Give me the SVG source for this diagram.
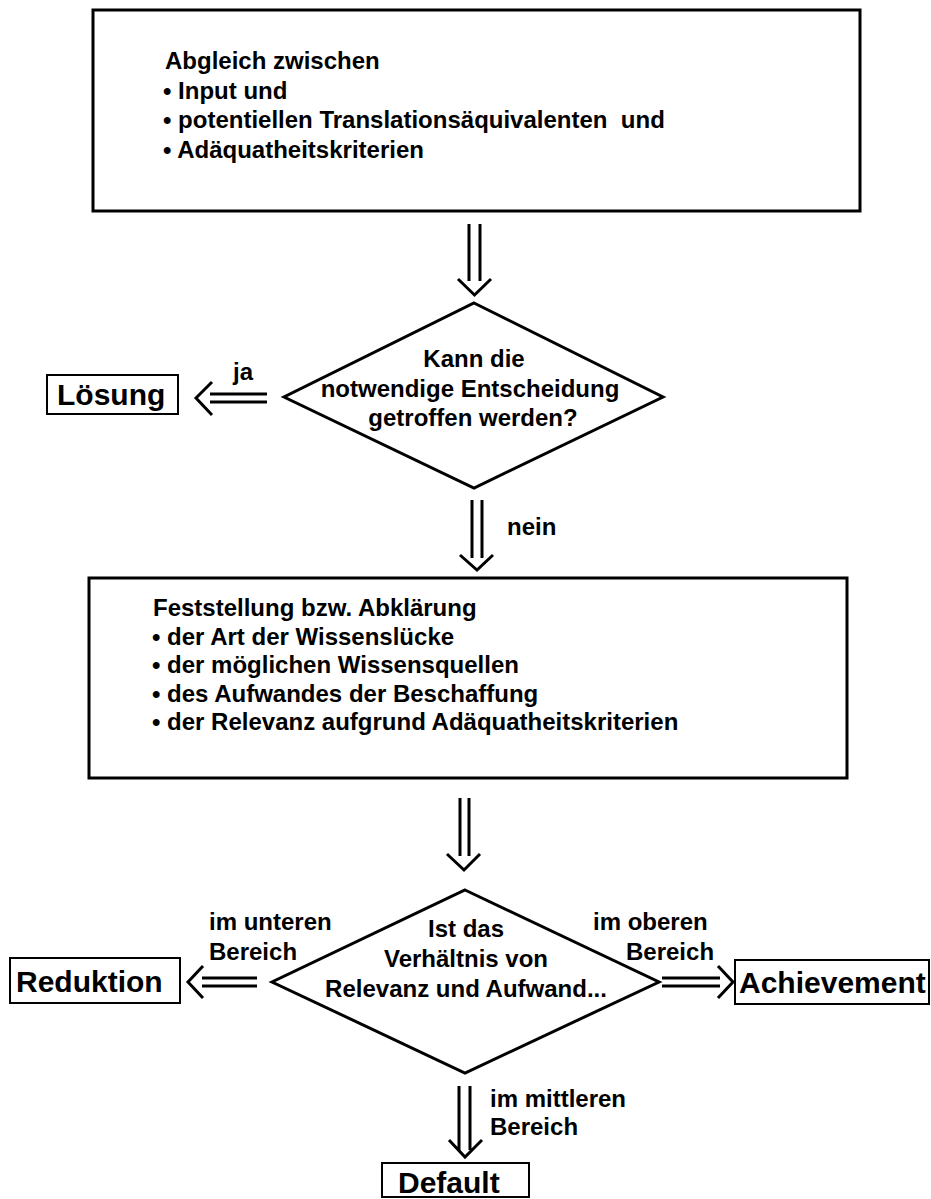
<svg xmlns="http://www.w3.org/2000/svg" width="931" height="1199" viewBox="0 0 931 1199">
<style>
.box{fill:#fff;stroke:#000;stroke-width:3}
.lbl{fill:#fff;stroke:#000;stroke-width:2}
.dia{fill:#fff;stroke:#000;stroke-width:3}
.t{font-family:"Liberation Sans",Arial,sans-serif;font-weight:bold;font-size:24px;fill:#000}
.big{font-family:"Liberation Sans",Arial,sans-serif;font-weight:bold;font-size:30px;fill:#000}
.c{text-anchor:middle}
.ln{stroke:#000;stroke-width:3;fill:none}
</style>
<rect width="931" height="1199" fill="#fff"/>
<g id="box1">
<rect class="box" x="93" y="10" width="767" height="201"/>
<text class="t" x="165" y="69">Abgleich zwischen</text>
<text class="t" x="163" y="98.5">• Input und</text>
<text class="t" x="163" y="128">• potentiellen Translationsäquivalenten&#160; und</text>
<text class="t" x="163" y="157.5">• Adäquatheitskriterien</text>
</g>
<g id="diamond1">
<polygon class="dia" points="474,303 663,397 474,488 284,397"/>
<text class="t c" x="474" y="367">Kann die</text>
<text class="t c" x="470" y="397">notwendige Entscheidung</text>
<text class="t c" x="473" y="426">getroffen werden?</text>
</g>
<g id="loesung">
<rect class="lbl" x="47" y="375" width="131" height="39"/>
<text class="big" x="57" y="405">Lösung</text>
</g>
<g id="box2">
<rect class="box" x="89" y="578" width="758" height="200"/>
<text class="t" x="153" y="616">Feststellung bzw. Abklärung</text>
<text class="t" x="152" y="644.5">• der Art der Wissenslücke</text>
<text class="t" x="152" y="673">• der möglichen Wissensquellen</text>
<text class="t" x="152" y="701.5">• des Aufwandes der Beschaffung</text>
<text class="t" x="152" y="730">• der Relevanz aufgrund Adäquatheitskriterien</text>
</g>
<g id="diamond2">
<polygon class="dia" points="465,890 659,982 465,1073 272,982"/>
<text class="t c" x="466" y="937">Ist das</text>
<text class="t c" x="466" y="967">Verhältnis von</text>
<text class="t c" x="466" y="997">Relevanz und Aufwand...</text>
</g>
<g id="reduktion">
<rect class="lbl" x="10" y="958" width="170" height="45"/>
<text class="big" x="16" y="992">Reduktion</text>
</g>
<g id="achievement">
<rect class="lbl" x="735" y="960" width="194" height="44"/>
<text class="big" x="739" y="993">Achievement</text>
</g>
<g id="default">
<rect class="lbl" x="382" y="1163" width="147" height="34"/>
<text class="big" x="398" y="1193">Default</text>
</g>
<g id="connectors">
<path class="ln" d="M469,224V281M480,224V281M458,279L474.5,295L491,279"/>
<path class="ln" d="M210,394H267M210,402H267M212,382L196,398L212,415"/>
<text class="t" x="233" y="380">ja</text>
<path class="ln" d="M472,500V558M482,500V558M460,555L477,570L493,555"/>
<text class="t" x="507" y="535">nein</text>
<path class="ln" d="M460,798V856M469,798V856M447,854L464,870L480,854"/>
<path class="ln" d="M202,978H257M202,986H257M203,966L188,982L203,998"/>
<text class="t" x="209" y="930">im unteren</text>
<text class="t" x="209" y="960">Bereich</text>
<path class="ln" d="M662,978H720M662,986H720M718,966L733,982L718,998"/>
<text class="t" x="593" y="930">im oberen</text>
<text class="t" x="626" y="960">Bereich</text>
<path class="ln" d="M459,1086V1150M470,1086V1150M449,1140L465,1157L482,1140"/>
<text class="t" x="490" y="1107">im mittleren</text>
<text class="t" x="490" y="1135">Bereich</text>
</g>
</svg>
